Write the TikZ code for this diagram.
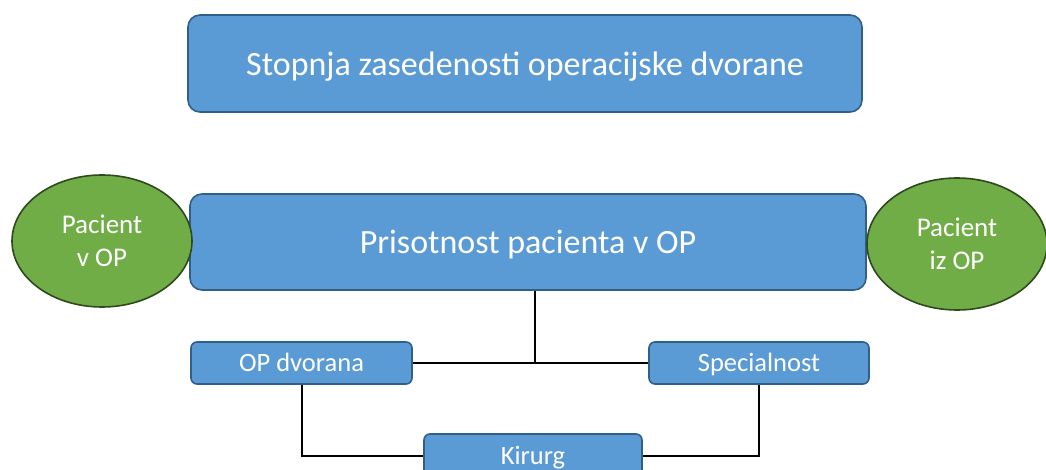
\documentclass[tikz,border=0pt]{standalone}
\usepackage{fontspec}
\setmainfont{Carlito}
\usetikzlibrary{shapes.geometric}
\definecolor{bfill}{HTML}{5B9BD5}
\definecolor{bdraw}{HTML}{2F5F8A}
\definecolor{gfill}{HTML}{70AD47}
\definecolor{gdraw}{HTML}{2E4A1C}
\tikzset{
  bbox/.style={draw=bdraw, fill=bfill, line width=1.6pt, text=white, inner sep=0pt, align=center},
  gell/.style={ellipse, draw=gdraw, fill=gfill, line width=1.6pt, text=white, inner sep=0pt, align=center,
    minimum width=180pt, minimum height=132pt, font=\fontsize{27}{33}\selectfont},
  bigtxt/.style={font=\fontsize{34}{40}\selectfont, text height=28pt, text depth=4pt},
  smalltxt/.style={font=\fontsize{26.5}{30}\selectfont, text height=20pt, text depth=3pt},
  conn/.style={draw=black, line width=2pt}
}
\begin{document}
\begin{tikzpicture}[x=1pt,y=-1pt]
\useasboundingbox (0,0) rectangle (1046,470);
\clip (0,0) rectangle (1046,470);
\node[bbox, bigtxt, rounded corners=12pt, minimum width=674pt, minimum height=97pt] (top) at (525,63.5) {Stopnja zasedenosti operacijske dvorane};
\node[bbox, bigtxt, rounded corners=12pt, minimum width=676pt, minimum height=96pt] (main) at (528,242) {Prisotnost pacienta v OP};
\node[gell] (pin) at (102,241) {Pacient\\v OP};
\node[gell] (pout) at (957,244) {Pacient\\iz OP};
\node[bbox, smalltxt, rounded corners=6pt, minimum width=221pt, minimum height=42pt] (dv) at (301.5,363) {OP dvorana};
\node[bbox, smalltxt, rounded corners=6pt, minimum width=220pt, minimum height=42pt] (sp) at (759,363) {Specialnost};
\node[bbox, smalltxt, rounded corners=6pt, minimum width=218pt, minimum height=44pt] (ki) at (533,456) {Kirurg};
\coordinate (j) at (535,363);
\draw[conn] (main.south -| j) -- (j);
\draw[conn] (dv.east) -- (sp.west);
\draw[conn] (dv.south) |- (ki.west);
\draw[conn] (sp.south) |- (ki.east);
\end{tikzpicture}
\end{document}
